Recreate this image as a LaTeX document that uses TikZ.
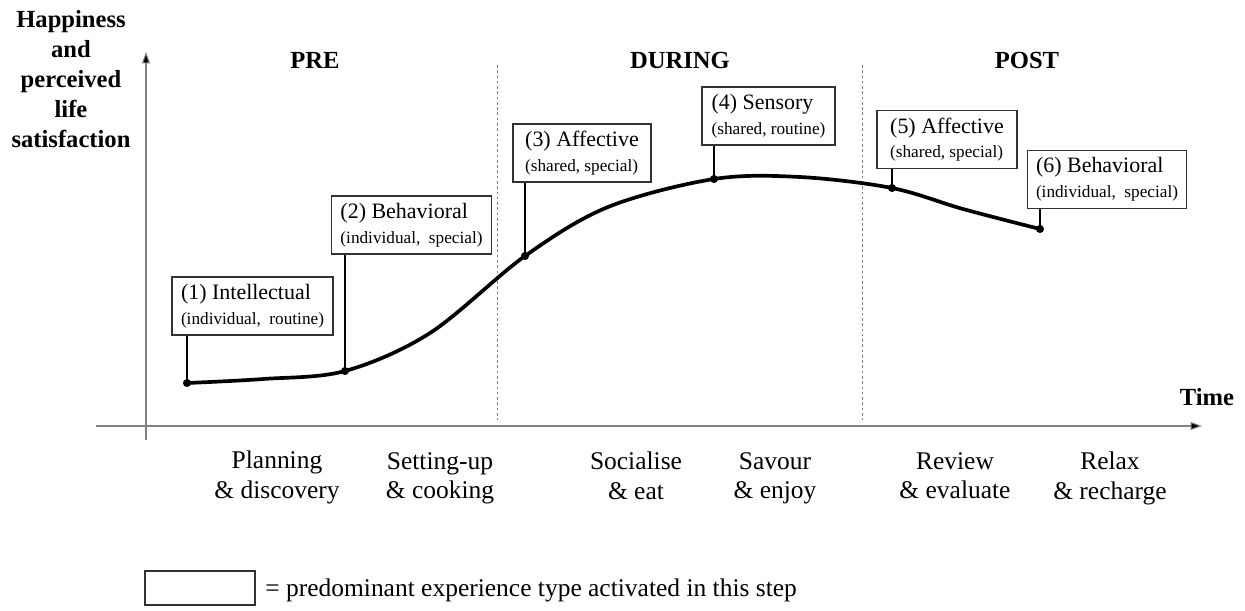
\documentclass[tikz,border=0pt]{standalone}
\usepackage{fontspec}
\setmainfont{Liberation Serif}
\usetikzlibrary{arrows.meta}

\tikzset{
	axis/.style={draw=gray, line width=0.6pt, -{Triangle[length=6.5pt,width=4.5pt,fill=black]}},
	phase/.style={draw=gray, line width=0.4pt, dash pattern=on 1.5pt off 1.5pt},
	stepbox/.style={draw=black!80, line width=0.6pt, fill=white, align=left, inner xsep=5pt, minimum height=1.16cm},
	pin/.style={draw=black, line width=0.6pt},
	dot/.style={fill=black, circle, inner sep=0pt, minimum size=4.6pt},
	bigtext/.style={font=\fontsize{14.5}{17}\selectfont, align=center},
	headtext/.style={font=\fontsize{14}{17}\selectfont\bfseries, align=center}
}
\newcommand{\steptext}[2]{{\fontsize{12.5}{14}\selectfont #1}\\[2pt]{\fontsize{9.8}{11}\selectfont #2}}

\begin{document}
\begin{tikzpicture}[x=0.02cm, y=-0.02cm]
		\useasboundingbox (0,0) rectangle (1245,610);
		% axes and phases
		\coordinate (yfoot) at (146,440);
		\coordinate (ytop) at (146,52);
		\coordinate (xfoot) at (96,426);
		\coordinate (xtop) at (1202,426);
		\draw[axis] (yfoot) -- (ytop);
		\draw[axis] (xfoot) -- (xtop);
		\coordinate (d1top) at (497,65);
		\coordinate (d1bot) at (497,420);
		\coordinate (d2top) at (862,65);
		\coordinate (d2bot) at (862,420);
		\draw[phase] (d1top) -- (d1bot);
		\draw[phase] (d2top) -- (d2bot);
		\node[headtext] (ylabel) at (71,79) {Happiness\\and\\perceived\\life\\satisfaction};
		\node[headtext] (xlabel) at (1207,397) {Time};
		\node[headtext] (pre) at (315,60) {PRE};
		\node[headtext] (during) at (680,60) {DURING};
		\node[headtext] (post) at (1027,60) {POST};
		% curve
		\coordinate (p1) at (187,383);
		\coordinate (p2) at (345,371);
		\coordinate (p3) at (525,256);
		\coordinate (p4) at (714,179);
		\coordinate (p5) at (892,188);
		\coordinate (p6) at (1040,229);
		\draw[line width=2.1pt, line cap=round] plot[smooth, tension=0.55] coordinates {(p1) (263,379) (p2) (430,333) (p3) (608,207) (p4) (800,177) (p5) (963,209) (p6)};
		% steps
		\node[stepbox, minimum width=3.22cm] (s1) at (252.5,306) {\steptext{(1) Intellectual}{(individual,\ \ routine)}};
		\node[stepbox, minimum width=3.18cm] (s2) at (411.5,225) {\steptext{(2) Behavioral}{(individual,\ \ special)}};
		\node[stepbox, minimum width=2.76cm] (s3) at (582,153) {\steptext{(3) Affective}{(shared, special)}};
		\node[stepbox, minimum width=2.66cm] (s4) at (768.5,116) {\steptext{(4) Sensory}{(shared, routine)}};
		\node[stepbox, minimum width=2.80cm] (s5) at (947,139.5) {\steptext{(5) Affective}{(shared, special)}};
		\node[stepbox, minimum width=3.16cm] (s6) at (1107,179.5) {\steptext{(6) Behavioral}{(individual,\ \ special)}};
		\draw[pin] (p1 |- s1.south) -- (p1);
		\draw[pin] (p2 |- s2.south) -- (p2);
		\draw[pin] (p3 |- s3.south) -- (p3);
		\draw[pin] (p4 |- s4.south) -- (p4);
		\draw[pin] (p5 |- s5.south) -- (p5);
		\draw[pin] (p6 |- s6.south) -- (p6);
		\node[dot] (q1) at (p1) {};
		\node[dot] (q2) at (p2) {};
		\node[dot] (q3) at (p3) {};
		\node[dot] (q4) at (p4) {};
		\node[dot] (q5) at (p5) {};
		\node[dot] (q6) at (p6) {};
		% activities
		\node[bigtext, anchor=north] (a1) at (277,445) {Planning\\\& discovery};
		\node[bigtext, anchor=north] (a2) at (440,446) {Setting-up\\\& cooking};
		\node[bigtext, anchor=north] (a3) at (636,446) {Socialise\\\& eat};
		\node[bigtext, anchor=north] (a4) at (775,446) {Savour\\\& enjoy};
		\node[bigtext, anchor=north] (a5) at (955,446) {Review\\\& evaluate};
		\node[bigtext, anchor=north] (a6) at (1110,446) {Relax\\\& recharge};
		% legend
		\node[draw=black!80, line width=0.6pt, minimum width=2.2cm, minimum height=0.68cm] (key) at (200,588) {};
		\node[bigtext, anchor=west, inner sep=0pt] (keytext) at (265,590) {= predominant experience type activated in this step};
	\end{tikzpicture}
\end{document}
